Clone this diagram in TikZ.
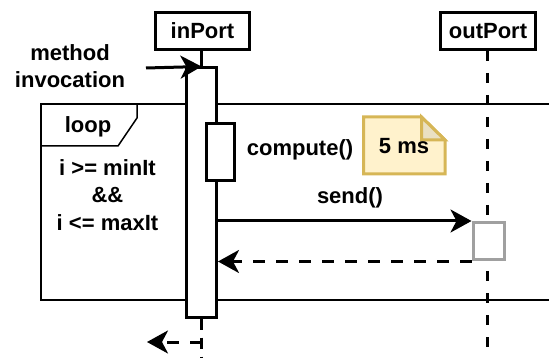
\documentclass[tikz,border=0pt]{standalone}
\usepackage{fontspec}
\setmainfont{Liberation Sans}
\usetikzlibrary{arrows.meta}
\definecolor{notefill}{HTML}{FFF2CC}
\definecolor{notedraw}{HTML}{D6B656}
\definecolor{foldfill}{HTML}{EAE0C2}
\definecolor{boxgray}{HTML}{A0A0A0}
\begin{document}
\begin{tikzpicture}[x=1pt,y=-1pt,
  font=\fontsize{22}{27.5}\selectfont\bfseries,
  participant/.style={draw, line width=3pt, fill=white, inner sep=0pt, minimum height=37pt},
  lifeline/.style={line width=3pt, dash pattern=on 10pt off 12pt},
  actbar/.style={draw, line width=3pt, fill=white, inner sep=0pt},
  msg/.style={line width=3pt, -{Stealth[length=21pt,width=23pt,inset=6pt]}},
  ret/.style={msg, dash pattern=on 12pt off 11pt},
  txt/.style={align=center, inner sep=0pt},
  framestyle/.style={line width=1.5pt}]
\useasboundingbox (0,0) rectangle (549,358);
\clip (0,0) rectangle (549,358);
% loop frame
\draw[framestyle] (560,104) -- (41,104) -- (41,300) -- (560,300);
\draw[framestyle] (137,104) -- (137,118) -- (118,146) -- (41,146);
\node[txt] (looplbl) at (88,127) {loop};
\node[txt] (cond) at (107.5,195) {i >= minIt\\\&\&\\i <= maxIt};
% participants
\node[participant, minimum width=94pt] (inport) at (202.5,31) {inPort};
\node[participant, minimum width=95pt] (outport) at (488,31) {outPort};
\coordinate (inend) at (201.5,358);
\coordinate (outend) at (487.5,358);
% lifelines
\draw[lifeline] (outport.south -| outend) -- (outend);
\node[actbar, minimum width=30pt, minimum height=249pt] (bar) at (201.5,192.5) {};
\draw[line width=3pt] (inport.south -| bar.north) -- (bar.north);
\draw[lifeline, dash pattern=on 11pt off 8pt] (bar.south) -- (inend);
\node[actbar, minimum width=28.5pt, minimum height=57pt] (cbar) at (220.25,152.5) {};
\node[actbar, draw=boxgray, minimum width=31pt, minimum height=37.5pt] (gbox) at (488.5,241.25) {};
% note
\draw[line width=3pt, draw=notedraw, fill=notefill, line join=miter]
  (363.5,117) -- (421.5,117) -- (445,140) -- (445,174) -- (363.5,174) -- cycle;
\draw[line width=3pt, draw=notedraw, fill=foldfill, line join=miter]
  (421.5,117) -- (421.5,140) -- (445,140) -- cycle;
\node[txt] (note) at (404,146) {5 ms};
% messages
\coordinate (callsrc) at (146,68);
\draw[msg] (callsrc) -- (bar.north);
\draw[msg] (bar.east |- gbox.north west) -- (gbox.north west);
\draw[ret] (gbox.south west) -- (bar.east |- gbox.south west);
\coordinate (retend) at (147,342);
\draw[ret] (inend |- retend) -- (retend);
% labels
\node[txt] (minv) at (70,66) {method\\invocation};
\node[txt] (computelbl) at (300,150) {compute()};
\node[txt] (sendlbl) at (350,198) {send()};
\end{tikzpicture}
\end{document}
